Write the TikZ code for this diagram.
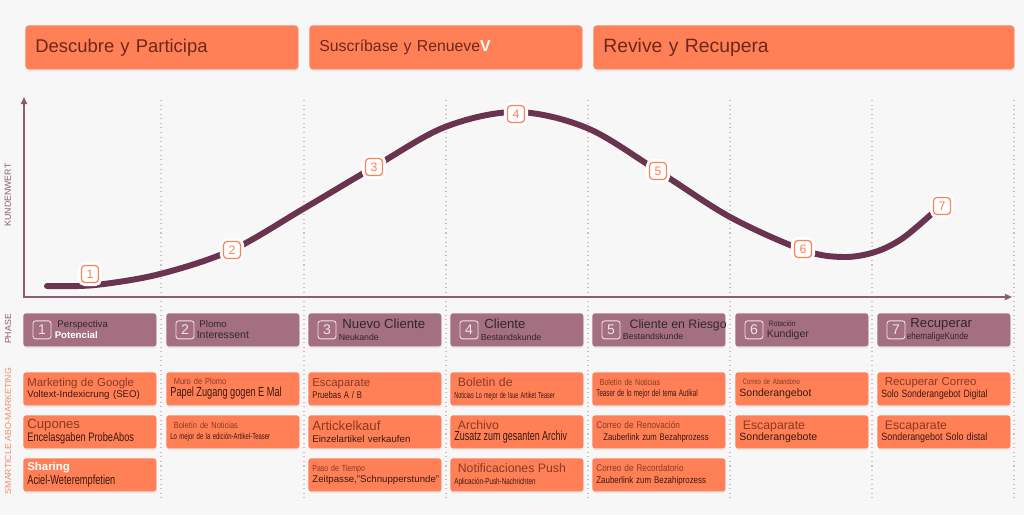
\documentclass[tikz,border=0pt]{standalone}
\usepackage{fontspec}
\setmainfont{Liberation Sans}
\usepackage{graphicx}
\usepackage{tikz}
\usetikzlibrary{positioning,arrows.meta,shadows}

\definecolor{bgc}{HTML}{F7F7F7}
\definecolor{orng}{HTML}{FF7F57}
\definecolor{mauve}{HTML}{A56F82}
\definecolor{plum}{HTML}{6A3450}
\definecolor{axisc}{HTML}{8C5E73}
\definecolor{dotc}{HTML}{D4BCC6}
\definecolor{hdrc}{HTML}{6E2819}
\definecolor{ttl}{HTML}{8A3A22}
\definecolor{subc}{HTML}{3A1A10}
\definecolor{phtxt}{HTML}{33262C}
\definecolor{phline}{HTML}{F0E2E7}
\definecolor{smart}{HTML}{F28C6C}

\newcommand{\fsz}[1]{\fontsize{#1}{#1}\selectfont}
\newcommand{\cnd}[2][0.7]{\scalebox{#1}[1]{#2}}

\begin{document}
\begin{tikzpicture}[x=0.02cm,y=-0.02cm,
   hdr/.style={fill=orng,rounded corners=2pt,anchor=north west,minimum height=0.88cm,
      inner xsep=0.2cm,align=left,text=hdrc,
      drop shadow={shadow xshift=0.3pt,shadow yshift=-1pt,opacity=0.15}},
   phbox/.style={fill=mauve,rounded corners=1.5pt,anchor=north west,minimum width=2.66cm,
      minimum height=0.66cm,inner sep=0pt,
      drop shadow={shadow xshift=0.3pt,shadow yshift=-1pt,opacity=0.15}},
   phnum/.style={draw=phline,rounded corners=1.5pt,line width=0.5pt,minimum size=0.36cm,
      inner sep=0pt,text=phline,font=\fsz{8}},
   phtext/.style={align=left,inner sep=0pt,text=phtxt,font=\fontsize{6}{6.4}\selectfont},
   mbox/.style={fill=orng,rounded corners=1.5pt,anchor=north west,minimum height=0.66cm,
      text width=2.5cm,inner xsep=0.08cm,inner ysep=0pt,align=left,text=subc,
      font=\fontsize{6}{6.6}\selectfont,
      drop shadow={shadow xshift=0.3pt,shadow yshift=-1pt,opacity=0.15}},
   marker/.style={draw=orng,fill=white,line width=0.7pt,rounded corners=2pt,
      minimum size=0.34cm,inner sep=0pt,text=orng,font=\fsz{7},
      preaction={draw=white,line width=4pt}},
   axis/.style={draw=axisc,line width=0.8pt},
   sep/.style={draw=dotc,line width=0.6pt,dotted},
   curve/.style={draw=plum,line width=3.4pt,line cap=round},
   side/.style={rotate=90,inner sep=0pt,font=\fsz{5}}]

   % background and frame
   \fill[bgc] (0,0) rectangle (1024,515);

   % stage headers
   \node[hdr,text width=5.06cm,font=\fsz{10.5}] (h1) at (25,25) {Descubre y Participa};
   \node[hdr,text width=5.06cm,font=\fsz{9}] (h2) at (309,25) {Suscríbase y Renueve\textcolor{white}{\textbf{V}}};
   \node[hdr,text width=8.02cm,font=\fsz{11}] (h3) at (593,25) {Revive y Recupera};

   % separators
   \draw[sep] (161,100) -- (161,500) (304,100) -- (304,500) (446,100) -- (446,500)
              (588,100) -- (588,500) (730,100) -- (730,500) (872,100) -- (872,500)
              (1014,100) -- (1014,500);

   % axes
   \coordinate (ytop) at (24,97);
   \coordinate (orig) at (24,297);
   \coordinate (xend) at (1012,297);
   \draw[axis,{Triangle[length=4pt,width=3.5pt]}-{Triangle[length=4pt,width=3.5pt]}]
      (ytop) -- (orig) -- (xend);

   % customer value curve
   \draw[curve] plot[smooth,tension=0.55] coordinates {
      (47,286) (95,285) (160,274) (232,250) (303,209) (374,167) (445,127)
      (516,112) (587,128) (658,171) (730,217) (803,250) (843,257) (875,252)
      (903,238) (936,210)};

   \node[marker] (k1) at (90,274) {1};
   \node[marker] (k2) at (232,250) {2};
   \node[marker] (k3) at (374,167) {3};
   \node[marker] (k4) at (516,114) {4};
   \node[marker] (k5) at (658,171) {5};
   \node[marker] (k6) at (803,249) {6};
   \node[marker] (k7) at (942,206) {7};

   % side labels
   \node[side,text=axisc] (kw) at (8,195) {KUNDENWERT};
   \node[side,text=axisc] (ph) at (8,329) {PHASE};
   \node[side,text=smart] (sm) at (8,431) {SMARTICLE ABO-MARKETING};

   % phases
   \node[phbox] (p1) at (23,313) {};
   \node[phbox] (p2) at (166,313) {};
   \node[phbox] (p3) at (308,313) {};
   \node[phbox] (p4) at (450,313) {};
   \node[phbox] (p5) at (592,313) {};
   \node[phbox] (p6) at (735,313) {};
   \node[phbox] (p7) at (877,313) {};

   \node[phnum] (n1) at ([xshift=0.38cm]p1.west) {1};
   \node[phnum] (n2) at ([xshift=0.38cm]p2.west) {2};
   \node[phnum] (n3) at ([xshift=0.38cm]p3.west) {3};
   \node[phnum] (n4) at ([xshift=0.38cm]p4.west) {4};
   \node[phnum] (n5) at ([xshift=0.38cm]p5.west) {5};
   \node[phnum] (n6) at ([xshift=0.38cm]p6.west) {6};
   \node[phnum] (n7) at ([xshift=0.38cm]p7.west) {7};

   \node[phtext,right=0.06cm of n1] (t1) {{\fsz{5.5}\ Perspectiva}\\{\fsz{5.5}\color{white}\textbf{Potencial}}};
   \node[phtext,right=0.04cm of n2] (t2) {{\fsz{5.5}\ Plomo}\\{\fsz{6}Interessent}};
   \node[phtext,right=0.04cm of n3] (t3) {{\fsz{7.5}\ Nuevo Cliente}\\{\fsz{5}Neukande}};
   \node[phtext,right=0.04cm of n4] (t4) {{\fsz{7.5}\ Cliente}\\{\fsz{5}Bestandskunde}};
   \node[phtext,right=0.04cm of n5] (t5) {{\fsz{7}\ \ Cliente en Riesgo}\\{\fsz{5}Bestandskunde}};
   \node[phtext,right=0.06cm of n6] (t6) {{\fsz{4.5}\ \cnd[0.85]{Rotación}}\\{\fsz{6}Kundiger}};
   \node[phtext,right=0.02cm of n7] (t7) {{\fsz{7.5}\ Recuperar}\\{\fsz{5.5}\cnd[0.85]{ehemaligeKunde}}};

   % marketing measures
   \node[mbox] (a1) at (23,372) {{\fsz{6.5}\color{ttl}Marketing de Google}\\{\fsz{5.5}Voltext-Indexicrung (SEO)}};
   \node[mbox] (a2) at (23,415) {{\fsz{7.5}\color{ttl}Cupones}\\{\fsz{7}\cnd[0.75]{Encelasgaben ProbeAbos}}};
   \node[mbox] (a3) at (23,458) {{\fsz{6.5}\color{white}\textbf{Sharing}}\\{\fsz{7.5}\cnd[0.7]{Aciel-Weterempfetien}}};

   \node[mbox] (b1) at (166,372) {{\fsz{5}\color{ttl}\ \cnd[0.85]{Muro de Plomo}}\\{\fsz{7.5}\cnd[0.7]{Papel Zugang gogen E Mal}}};
   \node[mbox] (b2) at (166,415) {{\fsz{5}\color{ttl}\ \cnd[0.85]{Boletín de Noticias}}\\{\fsz{5}\cnd[0.68]{Lo mejor de la edición-Artikel-Teaser}}};

   \node[mbox] (c1) at (308,372) {{\fsz{6.5}\color{ttl}Escaparate}\\{\fsz{5.5}\cnd[0.8]{Pruebas A / B}}};
   \node[mbox] (c2) at (308,415) {{\fsz{7.5}\color{ttl}Artickelkauf}\\{\fsz{5.5}Einzelartikel verkaufen}};
   \node[mbox] (c3) at (308,458) {{\fsz{5}\color{ttl}\cnd[0.8]{Paso de Tiempo}}\\{\fsz{5.5}Zeitpasse,"Schnupperstunde"}};

   \node[mbox] (d1) at (450,372) {{\fsz{7}\color{ttl}\ Boletin de}\\{\fsz{5}\cnd[0.62]{Noticias Lo mejor de Isue Artiket Teaser}}};
   \node[mbox] (d2) at (450,415) {{\fsz{7}\color{ttl}\ Archivo}\\{\fsz{7.5}\cnd[0.68]{Zusatz zum gesanten Archiv}}};
   \node[mbox] (d3) at (450,458) {{\fsz{7}\color{ttl}\ Notificaciones Push}\\{\fsz{5}\cnd[0.72]{Aplicación-Push-Nachrichten}}};

   \node[mbox] (e1) at (592,372) {{\fsz{5}\color{ttl}\ \cnd[0.8]{Boletín de Noticias}}\\{\fsz{5.5}\cnd[0.65]{Teaser de lo mejor del tema Autikal}}};
   \node[mbox] (e2) at (592,415) {{\fsz{5.5}\color{ttl}\cnd[0.85]{Correo de Renovación}}\\{\fsz{5.5}\ \ \cnd[0.8]{Zauberlink zum Bezahprozess}}};
   \node[mbox] (e3) at (592,458) {{\fsz{5.5}\color{ttl}\cnd[0.85]{Correo de Recordatorio}}\\{\fsz{5.5}\cnd[0.82]{Zauberlink zum Bezahiprozess}}};

   \node[mbox] (f1) at (735,372) {{\fsz{4.5}\color{ttl}\ \cnd[0.75]{Correo de Abandono}}\\{\fsz{6}Sonderangebot}};
   \node[mbox] (f2) at (735,415) {{\fsz{7}\color{ttl}\ Escaparate}\\{\fsz{6}Sonderangebote}};

   \node[mbox] (g1) at (877,372) {{\fsz{6.5}\color{ttl}\ Recuperar Correo}\\{\fsz{6}\cnd[0.82]{Solo Sonderangebot Digital}}};
   \node[mbox] (g2) at (877,415) {{\fsz{7}\color{ttl}\ Escaparate}\\{\fsz{6}\cnd[0.85]{Sonderangebot Solo distal}}};
\end{tikzpicture}
\end{document}
